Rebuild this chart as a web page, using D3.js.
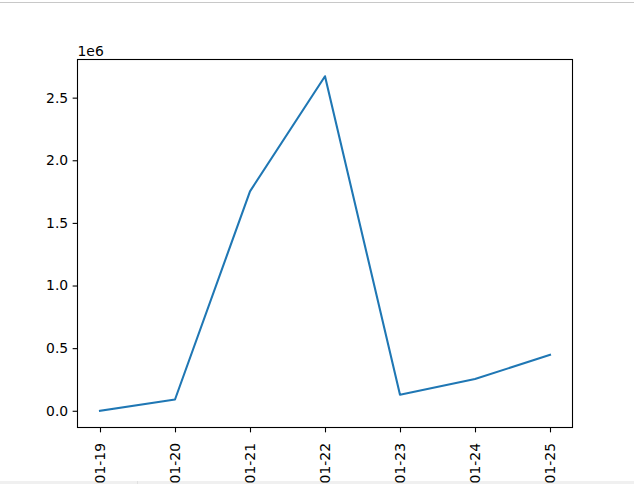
<!DOCTYPE html>
<html>
  <head>
    <meta charset="utf-8" />
    <title>Daily values</title>
    <script src="https://d3js.org/d3.v7.min.js"></script>
    <style>

      body {
        margin: 0;
        background: white;
      }

      #viz text {
        font-family: "DejaVu Sans", sans-serif;
        font-size: 13.9px;
        fill: black;
      }

    </style>
  </head>
  <body>

    <svg id="viz"></svg>

    <script>

      var days = ["01-19", "01-20", "01-21", "01-22", "01-23", "01-24", "01-25"];
      var values = [0, 90000, 1752000, 2671000, 128000, 253000, 447000];
      var yTicks = [0, 500000, 1000000, 1500000, 2000000, 2500000];

      var width = 634;
      var height = 484;

      var svg = d3.select("#viz")
        .attr("width", width)
        .attr("height", height);

      // window chrome around the figure
      svg.append("rect")
        .attr("x", 0).attr("y", 2)
        .attr("width", width).attr("height", 1)
        .attr("fill", "#c8c8c8");
      svg.append("rect")
        .attr("x", 0).attr("y", 481)
        .attr("width", width).attr("height", 3)
        .attr("fill", "#f0f0f0");
      svg.append("rect")
        .attr("x", 137).attr("y", 481)
        .attr("width", 1).attr("height", 3)
        .attr("fill", "#e0e0e0");

      var axLeft = 77.5, axRight = 572.5, axTop = 59.5, axBottom = 427.5;

      var x = d3.scaleLinear()
        .domain([-0.3, days.length - 1 + 0.3])
        .range([axLeft, axRight]);

      var lo = d3.min(values), hi = d3.max(values);
      var pad = (hi - lo) * 0.05;
      var y = d3.scaleLinear()
        .domain([lo - pad, hi + pad])
        .range([axBottom, axTop]);

      var tick = 4.86;

      var yAxis = svg.append("g")
        .attr("transform", "translate(" + axLeft + ",0)")
        .call(d3.axisLeft(y)
          .tickValues(yTicks)
          .tickSize(tick)
          .tickPadding(4.5)
          .tickFormat(function(d) { return d3.format(".1f")(d / 1e6); }));
      yAxis.select(".domain").remove();
      yAxis.selectAll("line").attr("stroke", "black").attr("stroke-width", 1.1);

      var xAxis = svg.append("g")
        .attr("transform", "translate(0," + axBottom + ")")
        .call(d3.axisBottom(x)
          .tickValues(d3.range(days.length))
          .tickSize(tick)
          .tickFormat(function(i) { return days[i]; }));
      xAxis.select(".domain").remove();
      xAxis.selectAll("line").attr("stroke", "black").attr("stroke-width", 1.1);
      xAxis.selectAll("text")
        .attr("text-anchor", "end")
        .attr("dy", "0.35em")
        .attr("y", 0)
        .attr("transform", "translate(0,15.5) rotate(-90)");

      var line = d3.line()
        .x(function(d, i) { return x(i); })
        .y(function(d) { return y(d); });

      svg.append("path")
        .datum(values)
        .attr("d", line)
        .attr("fill", "none")
        .attr("stroke", "#1f77b4")
        .attr("stroke-width", 2.08)
        .attr("stroke-linejoin", "round")
        .attr("stroke-linecap", "square");

      svg.append("rect")
        .attr("x", axLeft).attr("y", axTop)
        .attr("width", axRight - axLeft).attr("height", axBottom - axTop)
        .attr("fill", "none")
        .attr("stroke", "black")
        .attr("stroke-width", 1.1);

      svg.append("text")
        .attr("x", axLeft)
        .attr("y", axTop - 4)
        .text("1e6");

    </script>
  </body>
</html>
